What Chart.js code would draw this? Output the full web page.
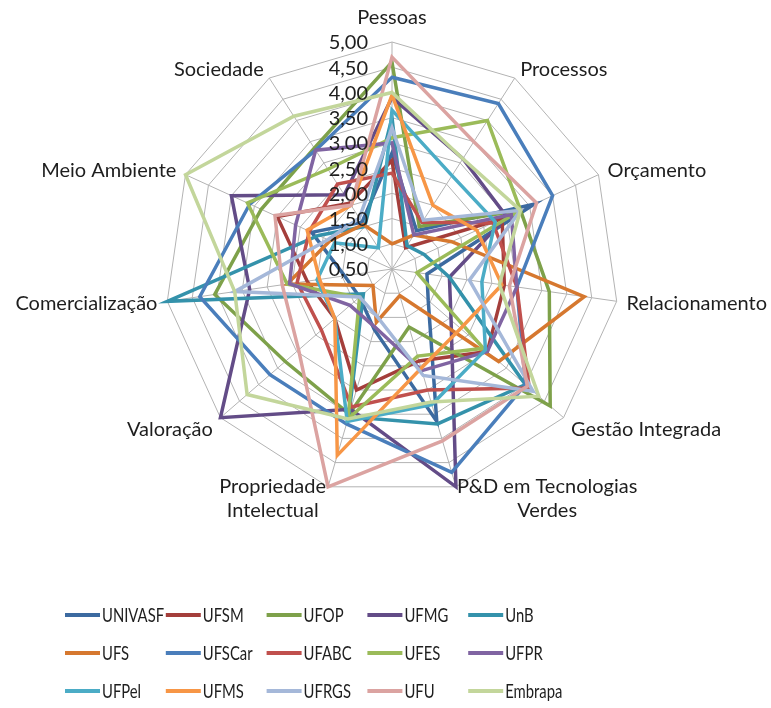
<!DOCTYPE html>
<html>
<head>
<meta charset="utf-8">
<script src="https://cdn.jsdelivr.net/npm/chart.js@4.4.1/dist/chart.umd.min.js"></script>
<style>
    html, body { margin: 0; padding: 0; background: #fff; }
    #wrap { width: 771px; height: 708px; }
</style>
</head>
<body>
<div id="wrap"><canvas id="radar" width="771" height="708"></canvas></div>
<script>
// eixos do radar (rótulos com duas linhas em array)
const eixos = ["Pessoas", "Processos", "Orçamento", "Relacionamento", "Gestão Integrada",
    ["P&D em Tecnologias", "Verdes"], ["Propriedade", "Intelectual"], "Valoração",
    "Comercialização", "Meio Ambiente", "Sociedade"];

const valoresEscala = [0.5, 1, 1.5, 2, 2.5, 3, 3.5, 4, 4.5, 5];
const rotulosEscala = ["0,50", "1,00", "1,50", "2,00", "2,50", "3,00", "3,50", "4,00", "4,50", "5,00"];

const instituicoes = ["UNIVASF", "UFSM", "UFOP", "UFMG", "UnB",
    "UFS", "UFSCar", "UFABC", "UFES", "UFPR",
    "UFPel", "UFMS", "UFRGS", "UFU", "Embrapa"];

const cores = ["#3c6aa0", "#a43e3b", "#7ea14a", "#634c87", "#3492ab",
    "#d6782f", "#4a7ebb", "#c0504d", "#9bbb59", "#8064a2",
    "#4bacc6", "#f79646", "#a5b8d9", "#dba3a1", "#c3d69b"];

// notas por eixo, na ordem de "eixos"
const UNIVASF = [2.8, 1.4, 3.6, 1.2, 1.45, 3.65, 1.75, 1.35, 1.45, 2.25, 1.6];
const UFSM    = [2.65, 1.0, 2.9, 2.75, 3.0, 2.4, 3.0, 2.0, 2.2, 3.0, 2.05];
const UFOP    = [4.6, 1.5, 3.3, 3.65, 4.65, 1.7, 3.5, 3.3, 4.05, 3.35, 3.35];
const UFMG    = [3.9, 3.1, 3.0, 1.65, 2.05, 5.0, 3.4, 5.0, 3.35, 4.0, 2.25];
const UnB     = [3.5, 1.05, 1.2, 1.65, 4.0, 3.7, 3.55, 1.25, 5.0, 2.1, 1.5];
const UFS     = [1.0, 1.3, 1.8, 4.35, 3.3, 1.05, 1.6, 1.0, 2.6, 1.85, 1.55];
const UFSCar  = [4.3, 4.4, 4.0, 3.0, 4.0, 4.7, 3.7, 3.7, 4.35, 3.6, 3.3];
const UFABC   = [2.4, 1.6, 2.7, 3.0, 4.1, 3.0, 3.35, 2.35, 2.4, 2.3, 2.5];
const UFES    = [3.1, 4.0, 3.3, 1.0, 2.9, 2.3, 3.6, 1.35, 2.6, 3.65, 2.85];
const UFPR    = [3.0, 1.3, 3.1, 3.0, 3.0, 2.6, 1.7, 1.6, 2.55, 2.6, 3.3];
const UFPel   = [3.65, 2.7, 2.75, 2.3, 2.95, 3.3, 3.65, 2.0, 2.0, 1.75, 1.0];
const UFMS    = [3.95, 2.0, 2.35, 2.7, 2.3, 2.55, 4.35, 2.0, 1.95, 2.35, 2.0];
const UFRGS   = [3.3, 1.65, 3.3, 2.05, 4.2, 2.7, 1.5, 1.35, 3.65, 1.9, 1.7];
const UFU     = [4.7, 3.5, 3.65, 2.85, 4.05, 4.05, 5.0, 2.95, 2.7, 3.05, 2.0];
const Embrapa = [4.0, 3.1, 3.3, 2.65, 4.35, 3.25, 3.6, 4.3, 3.65, 5.0, 4.1];

const series = [UNIVASF, UFSM, UFOP, UFMG, UnB, UFS, UFSCar, UFABC, UFES, UFPR,
    UFPel, UFMS, UFRGS, UFU, Embrapa];

const FONTE = "Lato, 'Open Sans', sans-serif";

// rótulos da escala, dos eixos e legenda desenhados à mão
const rotulosPlugin = {
    id: "rotulos",
    afterDatasetsDraw(chart) {
        const { ctx } = chart;
        const r = chart.scales.r;
        ctx.save();
        ctx.font = "20px " + FONTE;
        ctx.fillStyle = "#1e1e1e";
        ctx.textAlign = "right";
        ctx.textBaseline = "middle";
        valoresEscala.forEach((v, i) => {
            const y = r.yCenter - r.getDistanceFromCenterForValue(v);
            ctx.fillText(rotulosEscala[i], r.xCenter - 24, y + 1);
        });
        ctx.restore();
    },
    afterDraw(chart) {
        const { ctx } = chart;
        const r = chart.scales.r;
        const R = r.drawingArea;
        ctx.save();
        ctx.font = "20px " + FONTE;
        ctx.fillStyle = "#1e1e1e";
        ctx.textBaseline = "middle";
        eixos.forEach((rot, i) => {
            const ang = r.getIndexAngle(i);
            const s = Math.sin(ang), c = Math.cos(ang);
            const linhas = Array.isArray(rot) ? rot : [rot];
            if (Math.abs(s) < 0.05) {
                const p = r.getPointPosition(i, R + 24);
                ctx.textAlign = "center";
                ctx.fillText(linhas[0], p.x, p.y);
            } else if (c < -0.9) {
                const p = r.getPointPosition(i, R);
                const larg = Math.max(...linhas.map((l) => ctx.measureText(l).width));
                const x = s > 0 ? p.x + 1 + larg / 2 : p.x - 2 - larg / 2;
                ctx.textAlign = "center";
                linhas.forEach((l, k) => ctx.fillText(l, x, p.y + k * 24));
            } else {
                const p = r.getPointPosition(i, R + 10);
                ctx.textAlign = s > 0 ? "left" : "right";
                ctx.fillText(linhas[0], p.x, p.y + Math.max(0, -c) * 8);
            }
        });

        // legenda em grade 5 x 3, texto estreitado como no original
        ctx.font = "19px " + FONTE;
        ctx.textAlign = "left";
        instituicoes.forEach((nome, i) => {
            const col = i % 5, lin = Math.floor(i / 5);
            const x0 = 65 + col * 100.8;
            const y = 615 + lin * 38;
            ctx.strokeStyle = cores[i];
            ctx.lineWidth = 4;
            ctx.beginPath();
            ctx.moveTo(x0, y);
            ctx.lineTo(x0 + 35, y);
            ctx.stroke();
            ctx.save();
            ctx.translate(x0 + 37, y + 1);
            ctx.scale(0.78, 1);
            ctx.fillText(nome, 0, 0);
            ctx.restore();
        });
        ctx.restore();
    },
};

const datasets = series.map((dados, i) => ({
    label: instituicoes[i],
    data: dados,
    borderColor: cores[i],
    backgroundColor: cores[i],
    borderWidth: 3.5,
    fill: false,
    pointRadius: 0,
    pointHoverRadius: 0,
    tension: 0,
    order: series.length - 1 - i,
}));

new Chart(document.getElementById("radar").getContext("2d"), {
    type: "radar",
    data: { labels: eixos, datasets: datasets },
    options: {
        responsive: false,
        animation: false,
        layout: { padding: { left: 165, right: 152, top: 42, bottom: 212 } },
        plugins: { legend: { display: false }, tooltip: { enabled: false } },
        elements: { line: { borderJoinStyle: "miter" } },
        scales: {
            r: {
                min: 0.5,
                max: 5,
                beginAtZero: false,
                ticks: { stepSize: 0.5, display: false },
                grid: { color: "#b3b3b3", lineWidth: 1 },
                angleLines: { color: "#b3b3b3", lineWidth: 1 },
                pointLabels: { display: false },
            },
        },
    },
    plugins: [rotulosPlugin],
});
</script>
</body>
</html>
